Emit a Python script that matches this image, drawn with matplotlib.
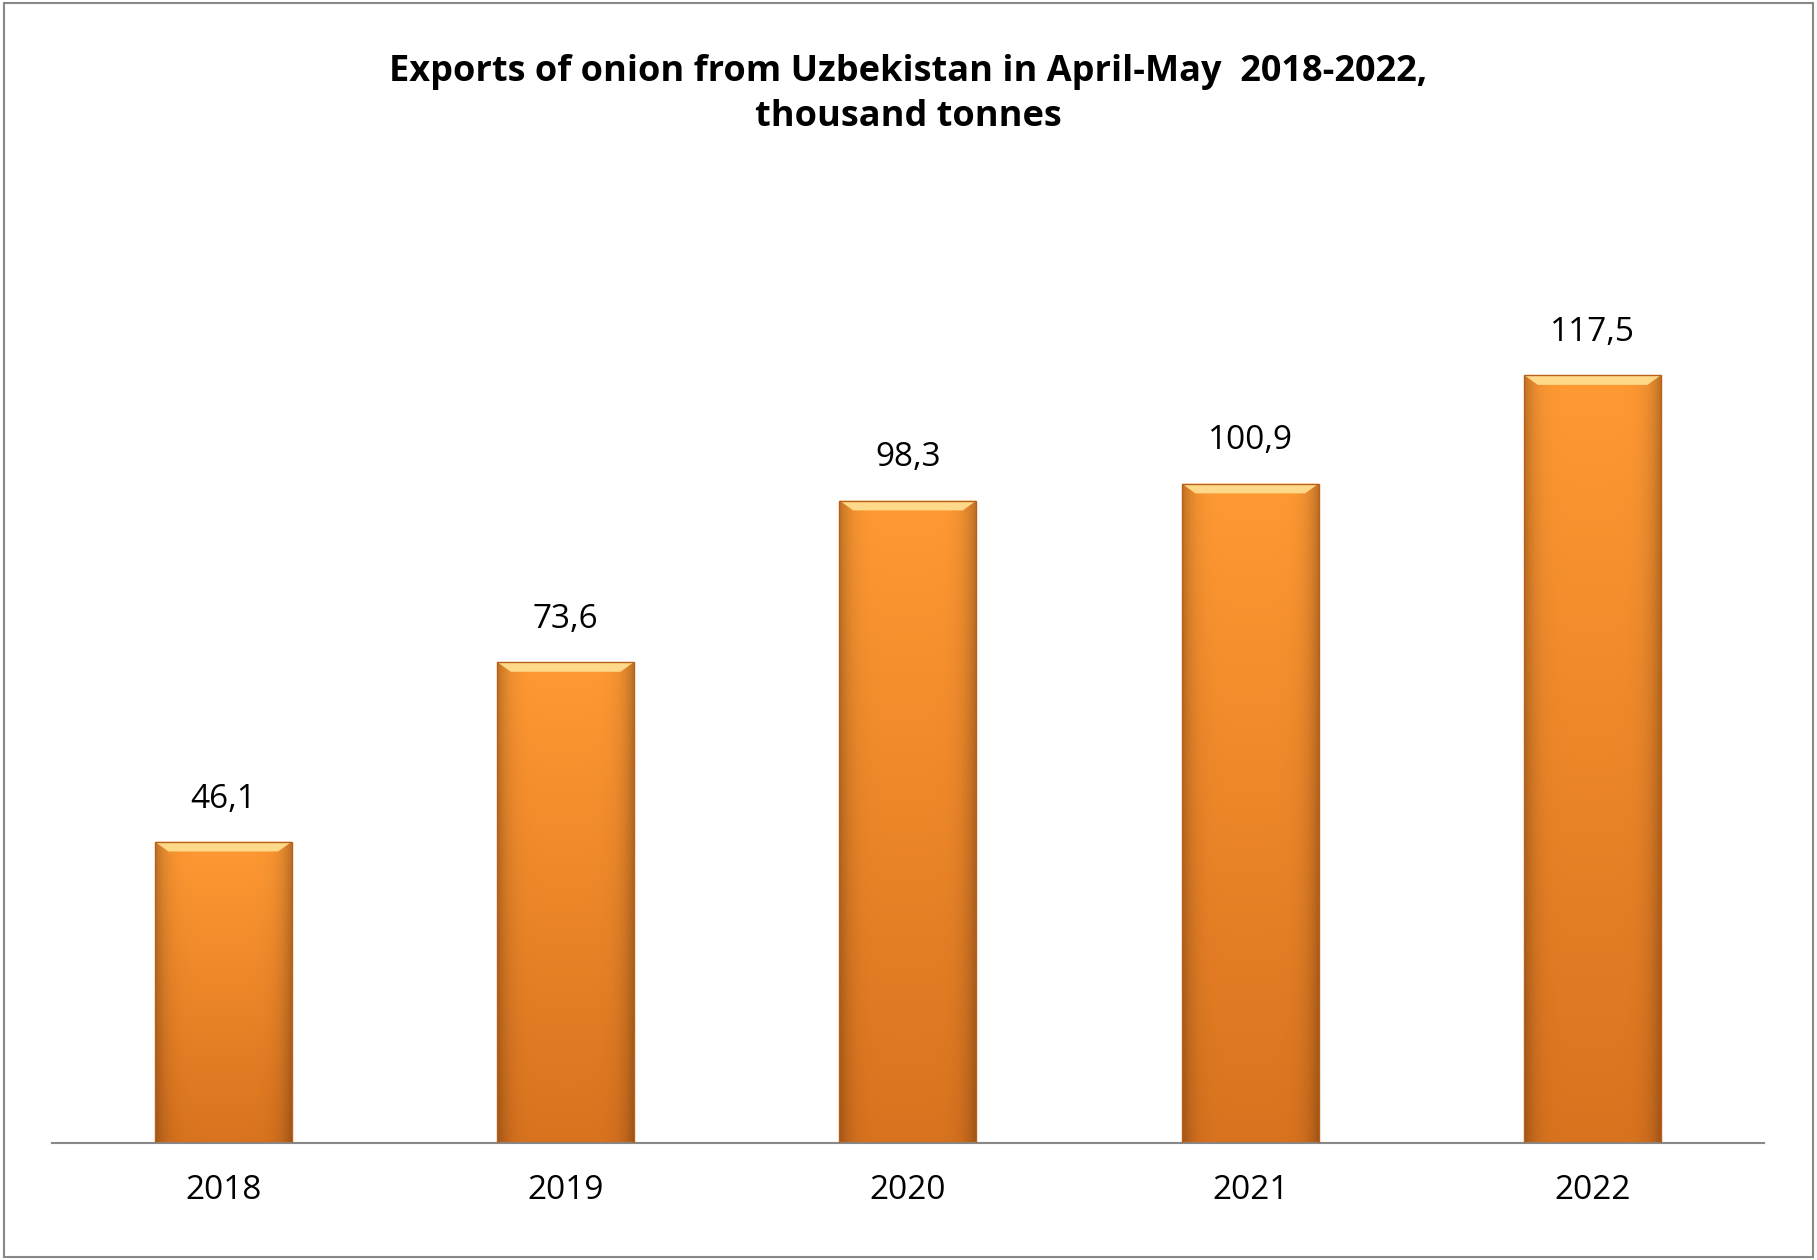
import matplotlib
matplotlib.use("Agg")
from matplotlib import pyplot as plt
from matplotlib.patches import Rectangle, Polygon
import numpy as np

years = ["2018", "2019", "2020", "2021", "2022"]
values = [46.1, 73.6, 98.3, 100.9, 117.5]
labels = ["46,1", "73,6", "98,3", "100,9", "117,5"]

plt.rcParams['font.family'] = ['Open Sans', 'DejaVu Sans']

fig = plt.figure(figsize=(18.17, 12.6), dpi=100)
ax = fig.add_axes([0.0287, 0.0929, 0.942, 0.723])
ax.set_xlim(-0.5, 4.5)
ax.set_ylim(0, 139.4)

w = 0.4
# vertical gradient + side shading for each bar
ny, nx = 64, 64
yy = np.linspace(0, 1, ny)[:, None]
xx = np.linspace(0, 1, nx)[None, :]
top = np.array([1.0, 0.60, 0.20])
bot = np.array([0.85, 0.45, 0.12])
grad = bot + (top - bot) * yy[..., None]
side = 1 - 0.25 * (np.abs(xx - 0.5) * 2) ** 6
img = np.clip(grad * side[..., None], 0, 1)

for i, v in enumerate(values):
    x0 = i - w / 2
    rect = Rectangle((x0, 0), w, v, facecolor="none", edgecolor="none")
    ax.add_patch(rect)
    im = ax.imshow(img, extent=(x0, x0 + w, 0, v), origin="lower",
                   aspect="auto", zorder=2)
    im.set_clip_path(rect)
    bev = 1.5
    ax.add_patch(Polygon([(x0, v), (x0 + w, v), (x0 + w - 0.04, v - bev),
                          (x0 + 0.04, v - bev)], closed=True,
                         facecolor="#FFD98A", edgecolor="none", zorder=3))
    ax.add_patch(Rectangle((x0, 0), w, v, facecolor="none",
                           edgecolor="#B8601A", linewidth=1, zorder=4))
    ax.text(i, v + 4, labels[i], ha="center", va="bottom", fontsize=24,
            color="black")

ax.set_xticks(range(len(years)))
ax.set_xticklabels(years, fontsize=24)
ax.tick_params(axis="x", length=0, pad=22)
ax.set_yticks([])
for s in ["top", "right", "left"]:
    ax.spines[s].set_visible(False)
ax.spines["bottom"].set_color("#888888")
ax.spines["bottom"].set_linewidth(1.5)

fig.text(0.5, 0.925, "Exports of onion from Uzbekistan in April-May  2018-2022,\nthousand tonnes",
         ha="center", va="center", fontsize=26, fontweight="bold", linespacing=1.35)

fig.patches.append(Rectangle((0.002, 0.002), 0.996, 0.996, transform=fig.transFigure,
                             fill=False, edgecolor="#888888", linewidth=1.5))

fig.savefig("out.png", dpi=100)
